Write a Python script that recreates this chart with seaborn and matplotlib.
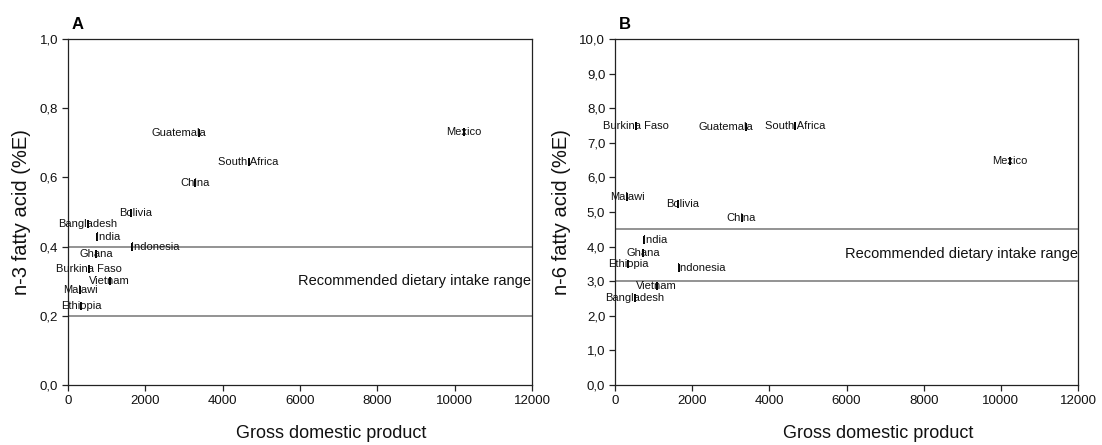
import matplotlib
matplotlib.use("Agg")
import matplotlib.pyplot as plt
import seaborn as sns
import pandas as pd
from matplotlib.ticker import FuncFormatter, MultipleLocator

# ---- data ----
countries = ["Guatemala", "South Africa", "China", "Mexico", "Bolivia", "Bangladesh",
             "India", "Indonesia", "Ghana", "Burkina Faso", "Vietnam", "Malawi", "Ethiopia"]
gdp = [3390, 4670, 3280, 10240, 1620, 520, 750, 1650, 730, 550, 1080, 310, 335]
n3 = [0.727, 0.645, 0.585, 0.730, 0.498, 0.465, 0.429, 0.398, 0.379, 0.335, 0.301, 0.275, 0.228]
n6 = [7.47, 7.49, 4.82, 6.47, 5.22, 2.51, 4.19, 3.37, 3.81, 7.49, 2.87, 5.44, 3.50]
range_n3 = [0.2, 0.4]
range_n6 = [3.0, 4.5]
range_text = "Recommended dietary intake range"
x_ticks = [0, 2000, 4000, 6000, 8000, 10000, 12000]

# label horizontal offsets (points) - layout only
label_dx = {"Guatemala": -14.4, "Bolivia": 3.6, "India": 7.9, "Indonesia": 16.6}

df = pd.DataFrame({"country": countries, "gdp": gdp, "n3": n3, "n6": n6})

sns.set_theme(style="white")
plt.rcParams["font.family"] = ["Liberation Sans", "DejaVu Sans"]

fig = plt.figure(figsize=(11.02, 4.45), dpi=100)
axA = fig.add_axes([68/1102, 1-385/445, 464/1102, 346/445])
axB = fig.add_axes([615/1102, 1-385/445, 463/1102, 346/445])

comma = FuncFormatter(lambda v, p: f"{v:.1f}".replace(".", ","))

panels = [
    (axA, "n3", range_n3, (0, 1.0), 0.2, "n-3 fatty acid (%E)", "A", 0.30),
    (axB, "n6", range_n6, (0, 10.0), 1.0, "n-6 fatty acid (%E)", "B", 3.78),
]

for ax, col, rng, ylim, ystep, ylabel, letter, ytxt in panels:
    for v in rng:
        ax.axhline(v, color="#8a8a8a", lw=1.3, zorder=1)
    sns.scatterplot(data=df, x="gdp", y=col, marker="|", s=32, color="black",
                    linewidth=1.4, ax=ax, zorder=3, legend=False)
    for c, xv, yv in zip(df["country"], df["gdp"], df[col]):
        ax.annotate(c, (xv, yv), xytext=(label_dx.get(c, 0), 0), textcoords="offset points",
                    ha="center", va="center", fontsize=8, color="#111111", zorder=4)
    ax.text(5950, ytxt, range_text, ha="left", va="center", fontsize=10.5, color="#111111",
            clip_on=False)
    ax.set_xlim(0, 12000)
    ax.set_ylim(*ylim)
    ax.set_xticks(x_ticks)
    ax.yaxis.set_major_locator(MultipleLocator(ystep))
    ax.yaxis.set_major_formatter(comma)
    ax.tick_params(axis="both", direction="out", length=4, width=0.9, color="#222222",
                   labelsize=9.5, labelcolor="#111111", pad=3, left=True, bottom=True)
    for s in ax.spines.values():
        s.set_color("#222222")
        s.set_linewidth(0.9)
        s.set_visible(True)
    ax.set_xlabel("Gross domestic product", fontsize=13, color="#111111")
    ax.xaxis.set_label_coords(0.568, -0.115)
    ax.set_ylabel(ylabel, fontsize=14.5, color="#111111", labelpad=6)
    ax.text(0.008, 1.02, letter, transform=ax.transAxes, fontsize=12, fontweight="bold",
            ha="left", va="bottom", color="black")

fig.savefig("out.png", dpi=100)
